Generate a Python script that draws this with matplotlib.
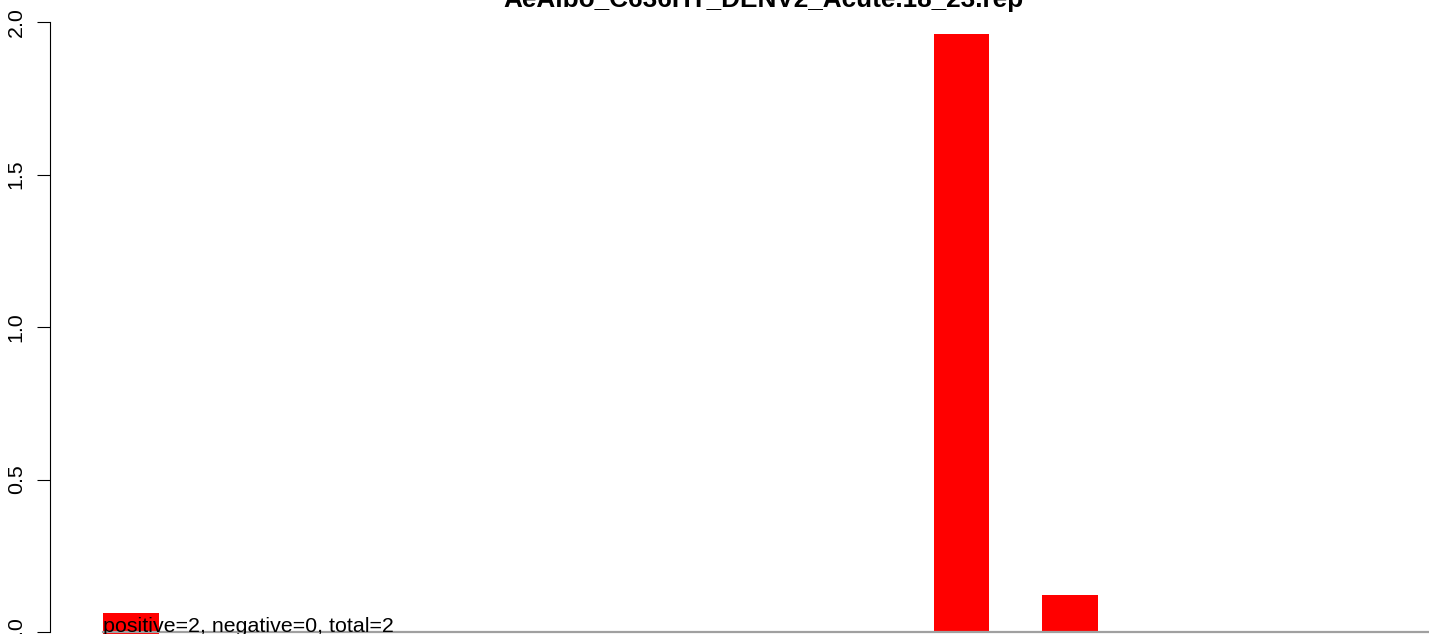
import matplotlib
matplotlib.use("Agg")
import matplotlib.pyplot as plt
from matplotlib.patches import Rectangle

plt.rcParams['font.family'] = ['Liberation Sans', 'DejaVu Sans']

title = "AeAlbo_C636HT_DENV2_Acute.18_23.rep"
bar_pos = [8, 9]
bar_vals = [1.96, 0.12]
y_ticks = [0.0, 0.5, 1.0, 1.5, 2.0]
y_labels = ["0.0", "0.5", "1.0", "1.5", "2.0"]
legend_text = "positive=2, negative=0, total=2"

W, H = 1429, 634
fig = plt.figure(figsize=(W / 100, H / 100), dpi=100)
ax = fig.add_axes([50 / W, 2 / H, 1379 / W, 610 / H])

ax.bar(bar_pos, bar_vals, width=0.51, color="#ff0000", linewidth=0)
ax.set_xlim(-0.40, 12.31)
ax.set_ylim(0, 2)

# grey baseline, starts under the legend box
ax.axhline(0, xmin=53 / 1379, xmax=1, color="#a0a0a0", lw=1.6, clip_on=False, zorder=3)

ax.set_yticks(y_ticks)
ax.set_yticklabels(y_labels, rotation=90, va="center")
ax.tick_params(axis="y", length=9.4, width=0.8, pad=8, labelsize=15.4)
ax.set_xticks([])
for s in ["top", "right", "bottom"]:
    ax.spines[s].set_visible(False)
ax.spines["left"].set_linewidth(0.8)

# legend: red swatch with the text written over it (as in the original)
lx = 53 / 1379
ax.add_patch(Rectangle((lx, -3 / 610), 56 / 1379, 22 / 610, transform=ax.transAxes,
                       facecolor="#ff0000", edgecolor="none", clip_on=False, zorder=2))
ax.text(lx, 0.0, legend_text, transform=ax.transAxes, ha="left", va="baseline",
        fontsize=15.4, zorder=4, clip_on=False)

fig.text(763 / W, 1 - 7 / H, title, ha="center", va="baseline",
         fontsize=18.8, fontweight="bold")

fig.savefig("out.png", dpi=100)
